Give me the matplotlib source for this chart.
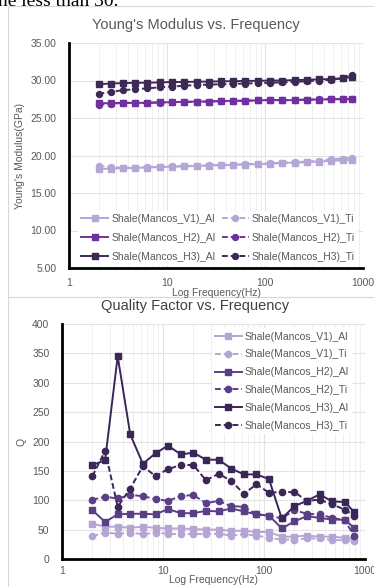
import matplotlib
matplotlib.use("Agg")
import matplotlib.pyplot as plt
from matplotlib.patches import Rectangle
from matplotlib.ticker import FixedLocator, NullFormatter, FuncFormatter

# ---------------- data ----------------
freq = [2, 2.67, 3.56, 4.74, 6.32, 8.43, 11.2, 15.0, 20.0, 26.6, 35.5, 47.4,
        63.1, 84.2, 112, 150, 200, 266, 355, 473, 631, 780]

labels = ["Shale(Mancos_V1)_Al", "Shale(Mancos_V1)_Ti",
          "Shale(Mancos_H2)_Al", "Shale(Mancos_H2)_Ti",
          "Shale(Mancos_H3)_Al", "Shale(Mancos_H3)_Ti"]

# Young's modulus (GPa)
E_V1_Al = [18.2, 18.25, 18.3, 18.35, 18.4, 18.45, 18.5, 18.55, 18.6, 18.65, 18.7,
           18.75, 18.8, 18.85, 18.9, 19.0, 19.05, 19.1, 19.2, 19.3, 19.35, 19.4]
E_V1_Ti = [18.6, 18.5, 18.35, 18.4, 18.45, 18.5, 18.55, 18.6, 18.65, 18.7, 18.75,
           18.8, 18.85, 18.9, 18.95, 19.05, 19.1, 19.2, 19.3, 19.5, 19.6, 19.7]
E_H2_Al = [27.0, 26.95, 27.05, 27.0, 27.05, 27.1, 27.1, 27.15, 27.2, 27.2, 27.25,
           27.3, 27.3, 27.35, 27.4, 27.35, 27.4, 27.45, 27.45, 27.5, 27.5, 27.5]
E_H2_Ti = [26.8, 26.9, 27.0, 27.0, 27.0, 27.05, 27.1, 27.15, 27.15, 27.2, 27.25,
           27.3, 27.3, 27.35, 27.4, 27.4, 27.4, 27.45, 27.5, 27.5, 27.55, 27.55]
E_H3_Al = [29.5, 29.6, 29.65, 29.7, 29.7, 29.75, 29.8, 29.8, 29.85, 29.85, 29.9,
           29.9, 29.95, 29.95, 30.0, 30.0, 30.05, 30.1, 30.15, 30.2, 30.3, 30.5]
E_H3_Ti = [28.2, 28.5, 28.7, 28.85, 28.95, 29.1, 29.2, 29.3, 29.4, 29.45, 29.5,
           29.55, 29.6, 29.65, 29.7, 29.75, 29.8, 29.9, 30.0, 30.1, 30.3, 30.8]

# Quality factor Q
Q_V1_Al = [60, 55, 55, 53, 55, 53, 52, 52, 51, 50, 50, 48, 48, 46, 46, 38, 38, 40,
           38, 38, 36, 35]
Q_V1_Ti = [39, 45, 43, 45, 42, 45, 43, 42, 43, 42, 43, 40, 42, 40, 36, 33, 33, 35,
           35, 32, 32, 31]
Q_H2_Al = [83, 63, 76, 77, 77, 76, 85, 78, 78, 82, 81, 86, 81, 76, 74, 52, 64, 73,
           70, 67, 67, 53]
Q_H2_Ti = [101, 106, 103, 109, 107, 102, 99, 107, 109, 95, 99, 90, 89, 76, 74, 69,
           83, 77, 76, 70, 66, 39]
Q_H3_Al = [160, 168, 345, 212, 162, 180, 193, 178, 181, 169, 169, 154, 144, 144,
           136, 69, 90, 99, 110, 98, 97, 80]
Q_H3_Ti = [141, 184, 89, 120, 158, 141, 153, 160, 160, 134, 145, 133, 111, 127, 113,
           114, 114, 99, 101, 93, 84, 74]

x_ticks = [1, 10, 100, 1000]
x_ticklabels = ["1", "10", "100", "1000"]

# ---------------- style ----------------
W, H = 374, 587
fig = plt.figure(figsize=(W / 100, H / 100), dpi=100)
FONT = "Liberation Sans"
plt.rcParams["font.family"] = [FONT, "DejaVu Sans"]
gray_txt = "#595959"


def fx(px):
    return px / W


def fy(py):
    return 1 - py / H


# document text fragment at top
fig.text(fx(-2), fy(6), "ne less than 30.", fontsize=14, family="Liberation Serif",
         color="black", va="baseline", ha="left")

# chart panels (Excel chart areas)
for (y0, y1) in [(6, 297), (297, 590)]:
    fig.patches.append(Rectangle((fx(8), fy(y1)), fx(380) - fx(8), fy(y0) - fy(y1),
                                 transform=fig.transFigure, facecolor="white",
                                 edgecolor="#d9d9d9", linewidth=0.8, zorder=-10))


def style_axes(ax, ylim, yticks, yfmt, title, ylabel, title_color, title_size,
               xpad, xlabelpad, title_x):
    ax.set_xscale("log")
    ax.set_xlim(1, 1000)
    ax.set_ylim(*ylim)
    ax.set_facecolor("none")
    ax.xaxis.set_major_locator(FixedLocator(x_ticks))
    ax.set_xticklabels(x_ticklabels)
    minors = [m * 10 ** d for d in range(0, 3) for m in range(2, 10)]
    ax.xaxis.set_minor_locator(FixedLocator(minors))
    ax.xaxis.set_minor_formatter(NullFormatter())
    ax.set_yticks(yticks)
    ax.yaxis.set_major_formatter(FuncFormatter(yfmt))
    ax.grid(True, which="major", color="#e3e3e3", linewidth=0.8)
    ax.grid(True, which="minor", axis="x", color="#efefef", linewidth=0.7)
    ax.set_axisbelow(True)
    for s in ["top", "right"]:
        ax.spines[s].set_visible(False)
    for s in ["left", "bottom"]:
        ax.spines[s].set_color("black")
        ax.spines[s].set_linewidth(2.0)
    ax.tick_params(which="both", length=0, labelsize=7.5, colors=gray_txt)
    ax.tick_params(axis="y", pad=9)
    ax.tick_params(axis="x", pad=xpad)
    ax.set_xlabel("Log Frequency(Hz)", fontsize=7.5, color=gray_txt, labelpad=xlabelpad)
    ax.set_ylabel(ylabel, fontsize=7.5, color=gray_txt)
    ax.set_title(title, fontsize=title_size, color=title_color, pad=10)
    ax.title.set_position((title_x, 1.0))


# ---------------- top chart ----------------
ax1 = fig.add_axes([fx(69), fy(268), fx(363) - fx(69), fy(43) - fy(268)])
c_v1, c_h2, c_h3 = "#b4a7d6", "#7030a0", "#3c2a55"
series_top = [
    (E_V1_Al, c_v1, "-", "s"), (E_V1_Ti, c_v1, "--", "o"),
    (E_H2_Al, c_h2, "-", "s"), (E_H2_Ti, c_h2, "--", "o"),
    (E_H3_Al, c_h3, "-", "s"), (E_H3_Ti, c_h3, "--", "o"),
]
handles = []
for (vals, c, ls, mk), lab in zip(series_top, labels):
    kw = dict(dashes=(3, 1.5)) if ls == "--" else {}
    h, = ax1.plot(freq, vals, color=c, linestyle=ls, marker=mk, markersize=4.3,
                  linewidth=1.4, label=lab, **kw)
    handles.append(h)
style_axes(ax1, (5, 35), [5, 10, 15, 20, 25, 30, 35], lambda v, p: f"{v:.2f}",
           "Young's Modulus vs. Frequency", "Young's Modulus(GPa)", gray_txt, 10.5,
           7, 0, 0.43)
order = [0, 2, 4, 1, 3, 5]
leg1 = ax1.legend([handles[i] for i in order], [labels[i] for i in order], ncol=2,
                  loc="lower left", bbox_to_anchor=(0.02, 0.0), frameon=True,
                  fontsize=7.5, handlelength=2.6, handletextpad=0.3, columnspacing=0.6,
                  labelspacing=0.85, borderaxespad=0.3, borderpad=0.3)
leg1.get_frame().set_edgecolor("none")
leg1.get_frame().set_facecolor("white")
leg1.get_frame().set_alpha(1)
for t in leg1.get_texts():
    t.set_color(gray_txt)

# ---------------- bottom chart ----------------
ax2 = fig.add_axes([fx(62), fy(559), fx(365) - fx(62), fy(324) - fy(559)])
b_v1, b_h2, b_h3 = "#b4a5d4", "#5b3f86", "#3b2757"
series_bot = [
    (Q_V1_Al, b_v1, "-", "s"), (Q_V1_Ti, b_v1, "--", "o"),
    (Q_H2_Al, b_h2, "-", "s"), (Q_H2_Ti, b_h2, "--", "o"),
    (Q_H3_Al, b_h3, "-", "s"), (Q_H3_Ti, b_h3, "--", "o"),
]
for (vals, c, ls, mk), lab in zip(series_bot, labels):
    kw = dict(dashes=(3, 1.5)) if ls == "--" else {}
    ax2.plot(freq, vals, color=c, linestyle=ls, marker=mk, markersize=4.5,
             linewidth=1.4, label=lab, **kw)
style_axes(ax2, (0, 400), list(range(0, 401, 50)), lambda v, p: f"{int(v)}",
           "Quality Factor vs. Frequency", "Q", "#404040", 10.5, 5, -1, 0.44)
leg2 = ax2.legend(loc="upper right", bbox_to_anchor=(0.965, 0.99), frameon=True,
                  fontsize=7.5, handlelength=2.6, handletextpad=0.3,
                  labelspacing=0.75, borderaxespad=0.2, borderpad=0.3)
leg2.get_frame().set_edgecolor("none")
leg2.get_frame().set_facecolor("white")
leg2.get_frame().set_alpha(1)
for t in leg2.get_texts():
    t.set_color(gray_txt)

fig.savefig("out.png", dpi=100)
